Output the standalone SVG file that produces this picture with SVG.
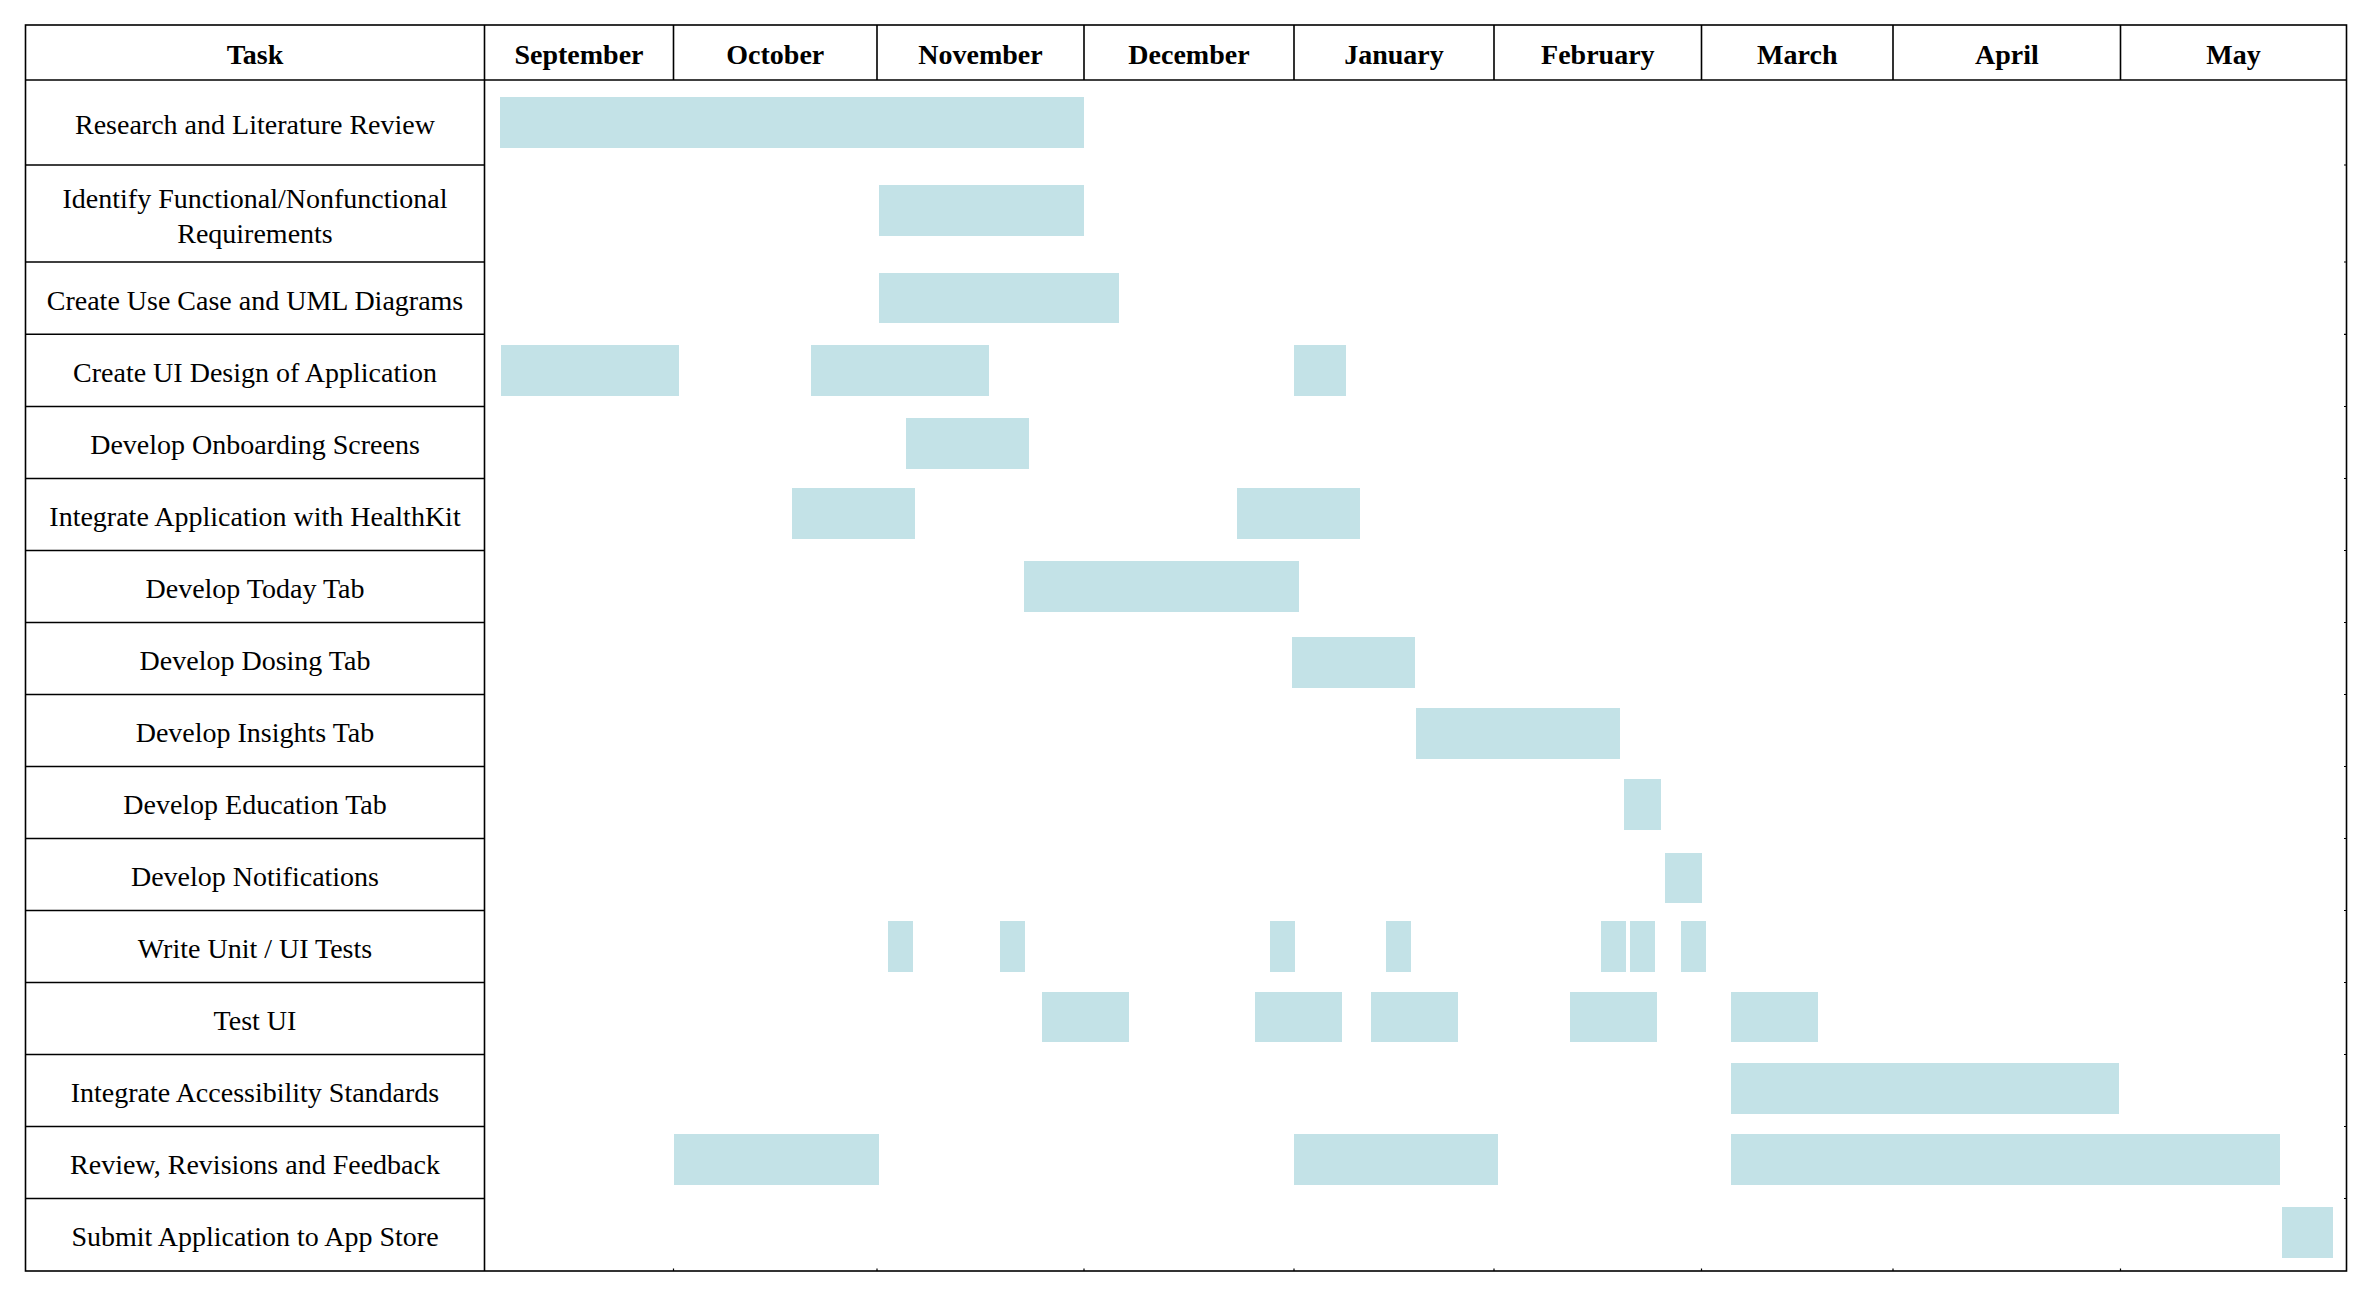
<svg xmlns="http://www.w3.org/2000/svg" width="2366" height="1290" viewBox="0 0 2366 1290">
<style>
  .bg { fill: #ffffff; }
  .ln { stroke: #000000; stroke-width: 1.6; fill: none; }
  .tk { stroke: #000000; stroke-width: 1.2; fill: none; }
  .bar { fill: #c3e2e7; }
  .hd { font-family: "Liberation Serif", "DejaVu Serif", serif; font-size: 28px; font-weight: bold; fill: #000; text-anchor: middle; }
  .lb { font-family: "Liberation Serif", "DejaVu Serif", serif; font-size: 28px; fill: #000; text-anchor: middle; }
</style>
<rect class="bg" x="0" y="0" width="2366" height="1290"/>

<g id="grid">
  <rect class="ln" x="25.5" y="25" width="2321" height="1246"/>
  <line class="ln" x1="25.5" y1="80" x2="2346.5" y2="80"/>
  <line class="ln" x1="484.5" y1="25" x2="484.5" y2="1271"/>
  <path class="ln" d="M673.5 25V80M877 25V80M1084 25V80M1294 25V80M1494 25V80M1701.5 25V80M1893 25V80M2120.5 25V80"/>
  <path class="ln" d="M25.5 165H484.5M25.5 262H484.5M25.5 334.3H484.5M25.5 406.5H484.5M25.5 478.5H484.5M25.5 550.5H484.5M25.5 622.5H484.5M25.5 694.5H484.5M25.5 766.5H484.5M25.5 838.5H484.5M25.5 910.5H484.5M25.5 982.5H484.5M25.5 1054.5H484.5M25.5 1126.5H484.5M25.5 1198.5H484.5"/>
  <path class="tk" d="M2344 165H2346.5M2344 262H2346.5M2344 334.3H2346.5M2344 406.5H2346.5M2344 478.5H2346.5M2344 550.5H2346.5M2344 622.5H2346.5M2344 694.5H2346.5M2344 766.5H2346.5M2344 838.5H2346.5M2344 910.5H2346.5M2344 982.5H2346.5M2344 1054.5H2346.5M2344 1126.5H2346.5M2344 1198.5H2346.5"/>
  <path class="tk" d="M673.5 1268.5V1271M877 1268.5V1271M1084 1268.5V1271M1294 1268.5V1271M1494 1268.5V1271M1701.5 1268.5V1271M1893 1268.5V1271M2120.5 1268.5V1271"/>
</g>

<g id="header">
  <text class="hd" x="255" y="63.5">Task</text>
  <text class="hd" x="579" y="63.5">September</text>
  <text class="hd" x="775.3" y="63.5">October</text>
  <text class="hd" x="980.5" y="63.5">November</text>
  <text class="hd" x="1189" y="63.5">December</text>
  <text class="hd" x="1394" y="63.5">January</text>
  <text class="hd" x="1597.8" y="63.5">February</text>
  <text class="hd" x="1797.3" y="63.5">March</text>
  <text class="hd" x="2006.8" y="63.5">April</text>
  <text class="hd" x="2233.5" y="63.5">May</text>
</g>

<g id="task-research">
  <text class="lb" x="255" y="134">Research and Literature Review</text>
  <rect class="bar" x="500" y="97" width="584" height="51"/>
</g>
<g id="task-requirements">
  <text class="lb" x="255" y="208">Identify Functional/Nonfunctional</text>
  <text class="lb" x="255" y="243">Requirements</text>
  <rect class="bar" x="879" y="185" width="205" height="51"/>
</g>
<g id="task-uml">
  <text class="lb" x="255" y="309.5">Create Use Case and UML Diagrams</text>
  <rect class="bar" x="879" y="273" width="240" height="50"/>
</g>
<g id="task-ui-design">
  <text class="lb" x="255" y="381.5">Create UI Design of Application</text>
  <rect class="bar" x="501" y="345" width="178" height="51"/>
  <rect class="bar" x="811" y="345" width="178" height="51"/>
  <rect class="bar" x="1294" y="345" width="52" height="51"/>
</g>
<g id="task-onboarding">
  <text class="lb" x="255" y="454">Develop Onboarding Screens</text>
  <rect class="bar" x="906" y="418" width="123" height="51"/>
</g>
<g id="task-healthkit">
  <text class="lb" x="255" y="526">Integrate Application with HealthKit</text>
  <rect class="bar" x="792" y="488" width="123" height="51"/>
  <rect class="bar" x="1237" y="488" width="123" height="51"/>
</g>
<g id="task-today">
  <text class="lb" x="255" y="598">Develop Today Tab</text>
  <rect class="bar" x="1024" y="561" width="275" height="51"/>
</g>
<g id="task-dosing">
  <text class="lb" x="255" y="670">Develop Dosing Tab</text>
  <rect class="bar" x="1292" y="637" width="123" height="51"/>
</g>
<g id="task-insights">
  <text class="lb" x="255" y="742">Develop Insights Tab</text>
  <rect class="bar" x="1416" y="708" width="204" height="51"/>
</g>
<g id="task-education">
  <text class="lb" x="255" y="814">Develop Education Tab</text>
  <rect class="bar" x="1624" y="779" width="37" height="51"/>
</g>
<g id="task-notifications">
  <text class="lb" x="255" y="886">Develop Notifications</text>
  <rect class="bar" x="1665" y="853" width="37" height="50"/>
</g>
<g id="task-unit-tests">
  <text class="lb" x="255" y="958">Write Unit / UI Tests</text>
  <rect class="bar" x="888" y="921" width="25" height="51"/>
  <rect class="bar" x="1000" y="921" width="25" height="51"/>
  <rect class="bar" x="1270" y="921" width="25" height="51"/>
  <rect class="bar" x="1386" y="921" width="25" height="51"/>
  <rect class="bar" x="1601" y="921" width="25" height="51"/>
  <rect class="bar" x="1630" y="921" width="25" height="51"/>
  <rect class="bar" x="1681" y="921" width="25" height="51"/>
</g>
<g id="task-test-ui">
  <text class="lb" x="255" y="1030">Test UI</text>
  <rect class="bar" x="1042" y="992" width="87" height="50"/>
  <rect class="bar" x="1255" y="992" width="87" height="50"/>
  <rect class="bar" x="1371" y="992" width="87" height="50"/>
  <rect class="bar" x="1570" y="992" width="87" height="50"/>
  <rect class="bar" x="1731" y="992" width="87" height="50"/>
</g>
<g id="task-accessibility">
  <text class="lb" x="255" y="1102">Integrate Accessibility Standards</text>
  <rect class="bar" x="1731" y="1063" width="388" height="51"/>
</g>
<g id="task-review">
  <text class="lb" x="255" y="1174">Review, Revisions and Feedback</text>
  <rect class="bar" x="674" y="1134" width="205" height="51"/>
  <rect class="bar" x="1294" y="1134" width="204" height="51"/>
  <rect class="bar" x="1731" y="1134" width="549" height="51"/>
</g>
<g id="task-submit">
  <text class="lb" x="255" y="1246">Submit Application to App Store</text>
  <rect class="bar" x="2282" y="1207" width="51" height="51"/>
</g>

<g id="connectors"></g>
</svg>
